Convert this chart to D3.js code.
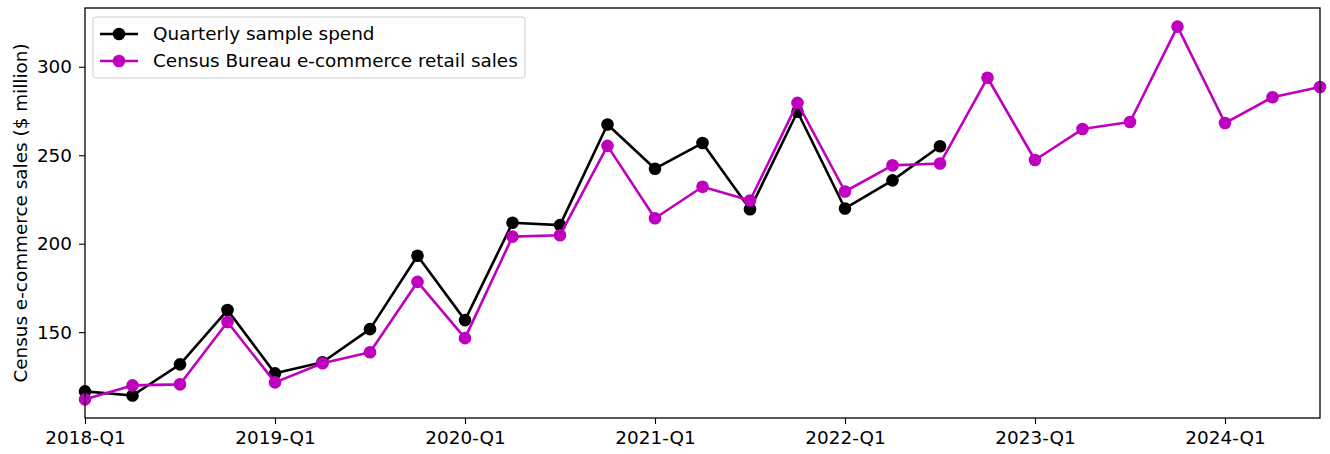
<!DOCTYPE html>
<html>
<head>
<meta charset="utf-8">
<script src="https://cdn.jsdelivr.net/npm/d3@7"></script>
<style>
  html, body { margin: 0; padding: 0; background: #fff; }
  svg { display: block; }
  text { font-family: "DejaVu Sans", sans-serif; }
</style>
</head>
<body>
<div id="chart"></div>
<script>
// ---- Data ----
const quarters = [
  "2018-Q1","2018-Q2","2018-Q3","2018-Q4",
  "2019-Q1","2019-Q2","2019-Q3","2019-Q4",
  "2020-Q1","2020-Q2","2020-Q3","2020-Q4",
  "2021-Q1","2021-Q2","2021-Q3","2021-Q4",
  "2022-Q1","2022-Q2","2022-Q3","2022-Q4",
  "2023-Q1","2023-Q2","2023-Q3","2023-Q4",
  "2024-Q1","2024-Q2","2024-Q3"
];
const sampleSpend = [
  116.5, 114.2, 131.8, 162.5,
  126.7, 133.0, 151.7, 193.2,
  156.8, 211.8, 210.5, 267.4,
  242.4, 256.9, 219.5, 274.6,
  219.9, 235.8, 255.1
];
const censusSales = [
  112.0, 119.9, 120.5, 155.7,
  121.6, 132.4, 138.6, 178.4,
  146.6, 204.0, 204.8, 255.3,
  214.4, 232.2, 224.4, 279.6,
  229.5, 244.3, 245.3, 293.8,
  247.3, 264.8, 268.8, 322.7,
  268.2, 282.8, 288.6
];
const xTickLabels = ["2018-Q1","2019-Q1","2020-Q1","2021-Q1","2022-Q1","2023-Q1","2024-Q1"];
const yTicks = [150, 200, 250, 300];
const seriesNames = ["Quarterly sample spend", "Census Bureau e-commerce retail sales"];
const seriesColors = ["#000000", "#bf00bf"];
const yLabel = "Census e-commerce sales ($ million)";

// ---- Layout ----
const W = 1330, H = 454;
const margin = { left: 85, right: 10, top: 8, bottom: 36 };
const iw = W - margin.left - margin.right;
const ih = H - margin.top - margin.bottom;

const svg = d3.select("#chart").append("svg").attr("width", W).attr("height", H);
const g = svg.append("g").attr("transform", `translate(${margin.left},${margin.top})`);

const x = d3.scaleLinear().domain([0, quarters.length - 1]).range([0, iw]);
const allVals = sampleSpend.concat(censusSales);
const lo = d3.min(allVals), hi = d3.max(allVals), pad = (hi - lo) * 0.05;
const y = d3.scaleLinear().domain([lo - pad, hi + pad]).range([ih, 0]);

const fs = 18.4;

// Axes
const xAxis = d3.axisBottom(x)
  .tickValues(xTickLabels.map(l => quarters.indexOf(l)))
  .tickFormat(i => quarters[i])
  .tickSize(6).tickPadding(5);
const yAxis = d3.axisLeft(y).tickValues(yTicks).tickFormat(d3.format("d")).tickSize(6).tickPadding(7);

const gx = g.append("g").attr("transform", `translate(0,${ih})`).call(xAxis);
const gy = g.append("g").call(yAxis);
[gx, gy].forEach(a => {
  a.select(".domain").remove();
  a.selectAll(".tick line").attr("stroke", "#000").attr("stroke-width", 1.1);
  a.selectAll(".tick text").attr("fill", "#000").style("font-size", fs + "px").style("font-family", "DejaVu Sans");
});
gx.selectAll(".tick text").attr("dy", "0.8em");

// Lines and markers
const line = d3.line().x((d, i) => x(i)).y(d => y(d));
[sampleSpend, censusSales].forEach((data, si) => {
  g.append("path").datum(data)
    .attr("fill", "none").attr("stroke", seriesColors[si])
    .attr("stroke-width", 2.6).attr("stroke-linejoin", "round")
    .attr("d", line);
  g.append("g").selectAll("circle").data(data).join("circle")
    .attr("cx", (d, i) => x(i)).attr("cy", d => y(d))
    .attr("r", 6.3).attr("fill", seriesColors[si]);
});

// Frame
g.append("rect").attr("x", 0).attr("y", 0).attr("width", iw).attr("height", ih)
  .attr("fill", "none").attr("stroke", "#000").attr("stroke-width", 1.3);

// Y label
svg.append("text")
  .attr("transform", `translate(27,${margin.top + ih / 2}) rotate(-90)`)
  .attr("text-anchor", "middle")
  .style("font-size", fs + "px")
  .text(yLabel);

// Legend
const lg = g.append("g").attr("transform", "translate(8,9)");
lg.append("rect").attr("x", 0).attr("y", 0).attr("width", 432).attr("height", 61)
  .attr("rx", 3).attr("fill", "#fff").attr("fill-opacity", 0.8)
  .attr("stroke", "#cccccc").attr("stroke-width", 1);
seriesNames.forEach((name, i) => {
  const cy = 17 + i * 27;
  lg.append("line").attr("x1", 7).attr("x2", 45).attr("y1", cy).attr("y2", cy)
    .attr("stroke", seriesColors[i]).attr("stroke-width", 2.6);
  lg.append("circle").attr("cx", 26).attr("cy", cy).attr("r", 6.3).attr("fill", seriesColors[i]);
  lg.append("text").attr("x", 60).attr("y", cy).attr("dy", "0.35em")
    .style("font-size", fs + "px").text(name);
});
</script>
</body>
</html>
